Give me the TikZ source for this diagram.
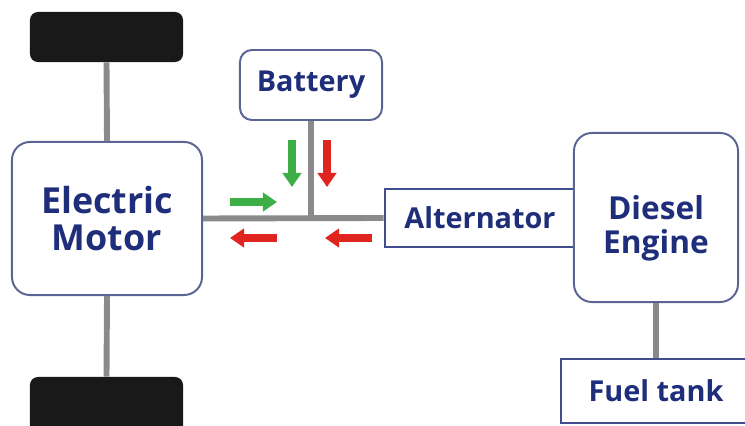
\documentclass[tikz,border=0pt]{standalone}
\usepackage{fontspec}
\setmainfont{Open Sans}
\usetikzlibrary{arrows.meta,positioning}
\definecolor{navy}{HTML}{1F2E7A}
\definecolor{boxline}{HTML}{5B6594}
\definecolor{shaft}{HTML}{8A8A8C}
\definecolor{flowgreen}{HTML}{3DAE45}
\definecolor{flowred}{HTML}{E0241F}

\begin{document}
\begin{tikzpicture}[x=0.025cm,y=-0.025cm]
\tikzstyle{part}=[draw=boxline,line width=1.4pt,fill=white,rounded corners=0.3cm,align=center,text=navy,font=\bfseries\fontsize{20.5}{23}\selectfont,inner sep=0pt]
\tikzstyle{unit}=[draw=navy!85,line width=2pt,fill=white,align=center,text=navy,font=\bfseries\fontsize{20.5}{23}\selectfont,inner sep=0pt]
\tikzstyle{wheel}=[fill=black!90,rounded corners=0.2cm,minimum width=3.825cm,inner sep=0pt]
\tikzstyle{link}=[shaft,line width=4.2pt]
\tikzstyle{flow}=[line width=5.5pt,-{Triangle[length=10pt,width=13pt]}]
\clip (0,0) rectangle (745,426);
% wheels and drive units
\node[wheel,minimum height=1.25cm] (wheeltop) at (106.5,37) {};
\node[wheel,minimum height=1.5cm] (wheelbot) at (106.5,407) {};
\node[part,rounded corners=0.45cm,minimum width=4.75cm,minimum height=3.825cm,
  font=\bfseries\fontsize{25.5}{26.5}\selectfont] (motor) at (107,218.5) {Electric\\Motor};
\node[part,minimum width=3.55cm,minimum height=1.75cm] (battery) at (311,85) {Battery};
\node[unit,minimum width=4.75cm,minimum height=1.45cm] (alternator) at (480,218) {Alternator};
\node[part,rounded corners=0.45cm,minimum width=4.1cm,minimum height=4.225cm,
  font=\bfseries\fontsize{22.5}{23}\selectfont] (engine) at (656,217.5)
  {\raisebox{-0.3cm}[\height][\depth]{\begin{tabular}{@{}c@{}}Diesel\\Engine\end{tabular}}};
\node[unit,minimum width=4.75cm,minimum height=1.6cm] (tank) at (656,391) {Fuel tank};
\coordinate (j) at (311,218);
% shafts and wires
\draw[link] (wheeltop.south) -- (motor.north);
\draw[link] (motor.south) -- (wheelbot.north);
\draw[link] (motor.east) -- (alternator.west);
\draw[link] (battery.south) -- (j);
\draw[link] (engine.south) -- (engine.south |- tank.north);
% energy flow
\draw[flow,flowgreen] ([shift={(-81,-16)}]j) -- ++(47,0);
\draw[flow,flowgreen] ([shift={(-19,-78)}]j) -- ++(0,47);
\draw[flow,flowred] ([shift={(16,-78)}]j) -- ++(0,47);
\draw[flow,flowred] ([shift={(-34,20)}]j) -- ++(-47,0);
\draw[flow,flowred] ([shift={(61,20)}]j) -- ++(-47,0);
\end{tikzpicture}
\end{document}
